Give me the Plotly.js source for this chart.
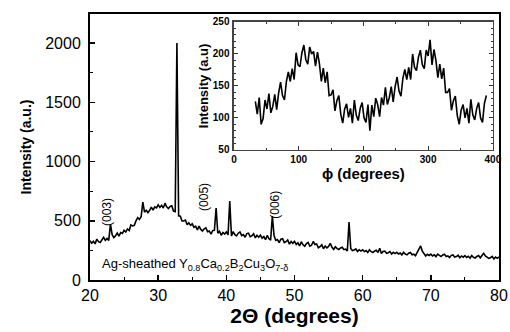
<!DOCTYPE html>
<html>
<head>
<meta charset="utf-8">
<script src="https://cdn.plot.ly/plotly-3.0.1.min.js"></script>
<style>html,body{margin:0;padding:0;background:#fff;}#chart{width:510px;height:332px;}</style>
</head>
<body>
<div id="chart"></div>
<script>
// Main XRD pattern: 2-theta (degrees) and intensity (a.u.)
var twoTheta = [
20,20.25,20.5,20.75,21,21.25,21.5,21.75,22,22.25,22.5,22.75,23,23.25,23.5,23.75,24,24.25,24.5,24.75,
25,25.25,25.5,25.75,26,26.25,26.5,26.75,27,27.25,27.5,27.75,28,28.25,28.5,28.75,29,29.25,29.5,29.75,
30,30.25,30.5,30.75,31,31.25,31.5,31.75,32,32.25,32.5,32.75,33,33.25,33.5,33.75,34,34.25,34.5,34.75,
35,35.25,35.5,35.75,36,36.25,36.5,36.75,37,37.25,37.5,37.75,38,38.25,38.5,38.75,39,39.25,39.5,39.75,
40,40.25,40.5,40.75,41,41.25,41.5,41.75,42,42.25,42.5,42.75,43,43.25,43.5,43.75,44,44.25,44.5,44.75,
45,45.25,45.5,45.75,46,46.25,46.5,46.75,47,47.25,47.5,47.75,48,48.25,48.5,48.75,49,49.25,49.5,49.75,
50,50.25,50.5,50.75,51,51.25,51.5,51.75,52,52.25,52.5,52.75,53,53.25,53.5,53.75,54,54.25,54.5,54.75,
55,55.25,55.5,55.75,56,56.25,56.5,56.75,57,57.25,57.5,57.75,58,58.25,58.5,58.75,59,59.25,59.5,59.75,
60,60.25,60.5,60.75,61,61.25,61.5,61.75,62,62.25,62.5,62.75,63,63.25,63.5,63.75,64,64.25,64.5,64.75,
65,65.25,65.5,65.75,66,66.25,66.5,66.75,67,67.25,67.5,67.75,68,68.25,68.5,68.75,69,69.25,69.5,69.75,
70,70.25,70.5,70.75,71,71.25,71.5,71.75,72,72.25,72.5,72.75,73,73.25,73.5,73.75,74,74.25,74.5,74.75,
75,75.25,75.5,75.75,76,76.25,76.5,76.75,77,77.25,77.5,77.75,78,78.25,78.5,78.75,79,79.25,79.5,79.75,
80];
var intensity = [
332,310,327,305, 345,324,317,345, 360,335,351,334, 472,383,358,373, 396,370,400,393,
419,405,431,417, 465,456,461,500, 527,511,534,658, 572,588,568,588, 616,589,618,609,
634,612,630,608, 648,618,603,621, 627,582,577,2000, 542,538,498,498, 506,466,483,461,
474,444,454,423, 455,427,413,432, 440,407,414,388, 417,420,608,395, 411,378,401,387,
406,381,667,371, 408,383,372,395, 406,375,384,361, 392,396,365,373, 390,356,377,361,
379,353,366,340, 376,349,337,540, 375,334,341,316, 345,348,315,323, 338,303,325,309,
326,300,314,287, 323,297,285,307, 317,285,293,325, 300,304,272,281, 297,264,286,271,
283,310,276,259, 281,265,258,270, 276,256,261,246, 490,267,248,252, 262,241,255,244,
255,240,249,232, 254,239,232,245, 251,232,268,223, 241,244,225,230, 240,219,233,223,
234,219,228,212, 234,219,212,226, 232,213,218,205, 236,255,287,244, 223,202,217,207,
218,203,213,197, 219,204,198,211, 217,198,204,190, 208,211,193,198, 209,188,203,193,
205,190,200,184, 207,192,186,199, 206,187,202,225, 203,194,183,188, 199,178,193,183,
195];

// Inset: phi scan, phi (degrees) and intensity (a.u)
var phi = [33,36,39,42,45,48,51,54,57,60,63,66,69,72,75,78,81,84,87,90,93,96,99,102,105,108,111,114,117,120,123,126,129,132,135,138,141,144,147,150,153,156,159,162,165,168,171,174,177,180,183,186,189,192,195,198,201,204,207,210,213,216,219,222,225,228,231,234,237,240,243,246,249,252,255,258,261,264,267,270,273,276,279,282,285,288,291,294,297,300,303,306,309,312,315,318,321,324,327,330,333,336,339,342,345,348,351,354,357,360,363,366,369,372,375,378,381,384,387,390];
var phiIntensity = [
126,106,132,90,99,128,114,138,108,118,
137,113,139,156,135,128,157,172,157,177,
160,202,183,180,202,214,191,184,211,200,
204,181,203,185,157,178,155,172,135,136,
144,111,127,135,106,92,114,122,101,115,
92,128,104,96,115,124,100,93,121,80,
120,102,131,121,102,132,120,148,121,132,
149,125,149,164,142,134,162,176,160,179,
160,200,179,174,195,206,183,177,206,197,
222,183,207,190,163,184,161,178,140,140,
146,112,127,134,104,90,112,121,100,115,
92,129,105,97,115,124,100,93,123,135];

// Peak labels
var millerLabels = ['(003)','(005)','(006)'];
var millerAt = [22.5, 36.7, 47.1];
var millerY = [574, 700, 633];

var FONT = 'Liberation Sans, Arial, sans-serif';

var traces = [
  {x: twoTheta, y: intensity, type: 'scatter', mode: 'lines',
   line: {color: '#000', width: 1.6}, xaxis: 'x', yaxis: 'y', hoverinfo: 'skip'},
  {x: phi, y: phiIntensity, type: 'scatter', mode: 'lines',
   line: {color: '#000', width: 1.6}, xaxis: 'x2', yaxis: 'y2', hoverinfo: 'skip'}
];

var annotations = millerLabels.map(function (t, i) {
  return {text: t, x: millerAt[i], y: millerY[i], xref: 'x', yref: 'y',
    showarrow: false, textangle: -90, font: {family: FONT, size: 12, color: '#000'}};
});
annotations.push({
  text: 'Ag-sheathed Y<sub>0.8</sub>Ca<sub>0.2</sub>B<sub>2</sub>Cu<sub>3</sub>O<sub>7-δ</sub>',
  x: 0.024, y: 0.06, xref: 'paper', yref: 'paper', xanchor: 'left', yanchor: 'middle',
  showarrow: false, font: {family: FONT, size: 13, color: '#000'}
});

var layout = {
  width: 510, height: 332,
  margin: {l: 90, r: 11, t: 14, b: 52},
  paper_bgcolor: '#fff', plot_bgcolor: '#fff',
  showlegend: false,
  font: {family: FONT, color: '#000'},
  xaxis: {
    domain: [0, 1], range: [20, 80], dtick: 10, tick0: 20,
    ticks: 'inside', ticklen: 5, tickwidth: 1.5, tickcolor: '#000',
    minor: {dtick: 5, ticks: 'inside', ticklen: 3, tickwidth: 1, tickcolor: '#000'},
    showline: true, linewidth: 2, linecolor: '#000', mirror: true,
    showgrid: false, zeroline: false,
    tickfont: {family: FONT, size: 16, color: '#000'},
    title: {text: '2Θ (degrees)', font: {family: FONT, size: 21, weight: 'bold', color: '#000'}, standoff: 3}
  },
  yaxis: {
    domain: [0, 1], range: [0, 2245], dtick: 500, tick0: 0,
    ticks: 'inside', ticklen: 5, tickwidth: 1.5, tickcolor: '#000',
    minor: {dtick: 250, ticks: 'inside', ticklen: 3, tickwidth: 1, tickcolor: '#000'},
    showline: true, linewidth: 2, linecolor: '#000', mirror: true,
    showgrid: false, zeroline: false, ticklabelstandoff: 4,
    tickfont: {family: FONT, size: 16, color: '#000'},
    title: {text: 'Intensity (a.u.)', font: {family: FONT, size: 14, weight: 'bold', color: '#000'}, standoff: 10}
  },
  xaxis2: {
    anchor: 'y2', domain: [0.352, 0.985], range: [0, 400], dtick: 100, tick0: 0,
    ticks: 'inside', ticklen: 4, tickwidth: 1, tickcolor: '#333',
    minor: {dtick: 50, ticks: 'inside', ticklen: 2, tickwidth: 1, tickcolor: '#333'},
    showline: true, linewidth: 1.5, linecolor: '#444', mirror: 'ticks',
    showgrid: false, zeroline: false, ticklabelstandoff: 0,
    tickfont: {family: FONT, size: 10, weight: 'bold', color: '#000'},
    title: {text: 'ϕ (degrees)', font: {family: FONT, size: 15, weight: 'bold', color: '#000'}, standoff: 4}
  },
  yaxis2: {
    anchor: 'x2', domain: [0.489, 0.970], range: [50, 250], dtick: 50, tick0: 50,
    ticks: 'inside', ticklen: 4, tickwidth: 1, tickcolor: '#333',
    minor: {dtick: 10, ticks: 'inside', ticklen: 2, tickwidth: 1, tickcolor: '#333'},
    showline: true, linewidth: 1.5, linecolor: '#444', mirror: 'ticks',
    showgrid: false, zeroline: false, ticklabelstandoff: 1,
    tickfont: {family: FONT, size: 10, weight: 'bold', color: '#000'},
    title: {text: 'Intensity (a.u)', font: {family: FONT, size: 13, weight: 'bold', color: '#000'}, standoff: 1}
  },
  annotations: annotations
};

Plotly.newPlot('chart', traces, layout, {displayModeBar: false, staticPlot: true});
</script>
</body>
</html>
